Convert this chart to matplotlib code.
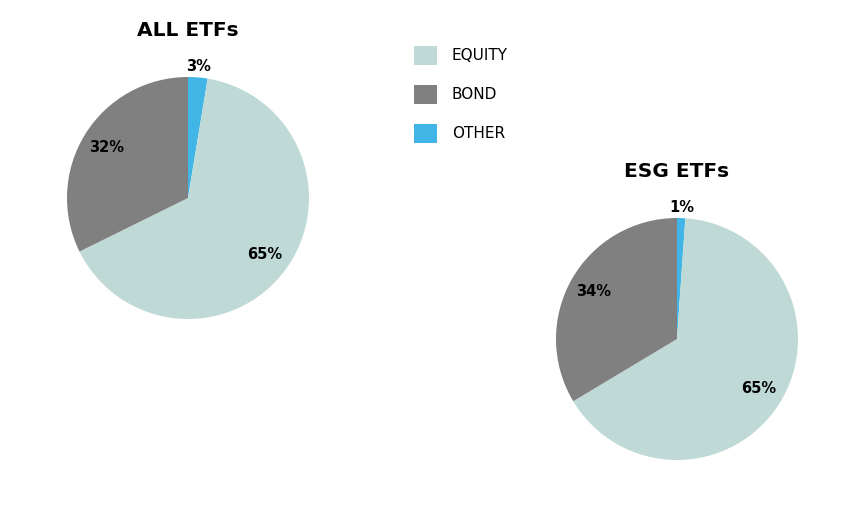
import matplotlib
matplotlib.use("Agg")
import matplotlib.pyplot as plt
import numpy as np

categories = ["OTHER", "EQUITY", "BOND"]
legend_order = ["EQUITY", "BOND", "OTHER"]
all_etfs = [2.6, 65.1, 32.3]
esg_etfs = [1.1, 65.3, 33.6]
titles = ["ALL ETFs", "ESG ETFs"]
colors = {"EQUITY": "#bfdad6", "BOND": "#808080", "OTHER": "#41b6e6"}

W, H = 867, 512
fig = plt.figure(figsize=(W / 100, H / 100), dpi=100)
fig.patch.set_facecolor("white")

def add_pie(cx, cy, r, values, title):
    ax = fig.add_axes([(cx - r) / W, (H - cy - r) / H, 2 * r / W, 2 * r / H])
    wedges, _ = ax.pie(values, colors=[colors[c] for c in categories],
                       startangle=90, counterclock=False, radius=1.0,
                       wedgeprops=dict(linewidth=0))
    ax.set_xlim(-1, 1)
    ax.set_ylim(-1, 1)
    ax.set_aspect("equal")
    ax.axis("off")
    for w, v in zip(wedges, values):
        mid = np.deg2rad((w.theta1 + w.theta2) / 2)
        d = 0.79 if v >= 5 else 1.09
        ax.text(d * np.cos(mid), d * np.sin(mid), f"{round(v):.0f}%",
                ha="center", va="center", fontsize=10.5, fontweight="bold",
                color="black")
    ax.text(0, 1.388, title, ha="center", va="center", fontsize=14.5,
            fontweight="bold", color="black")
    return wedges

w1 = add_pie(188, 198, 121, all_etfs, titles[0])
w2 = add_pie(677, 339, 121, esg_etfs, titles[1])

handles = [w1[categories.index(c)] for c in legend_order]
fig.legend(handles, legend_order, loc="upper left",
           bbox_to_anchor=(414 / W, 1 - 46 / H), frameon=False,
           fontsize=11, handlelength=1.5, handleheight=1.5,
           labelspacing=1.33, handletextpad=0.98, borderpad=0,
           borderaxespad=0)

fig.savefig("out.png", dpi=100, facecolor="white")
